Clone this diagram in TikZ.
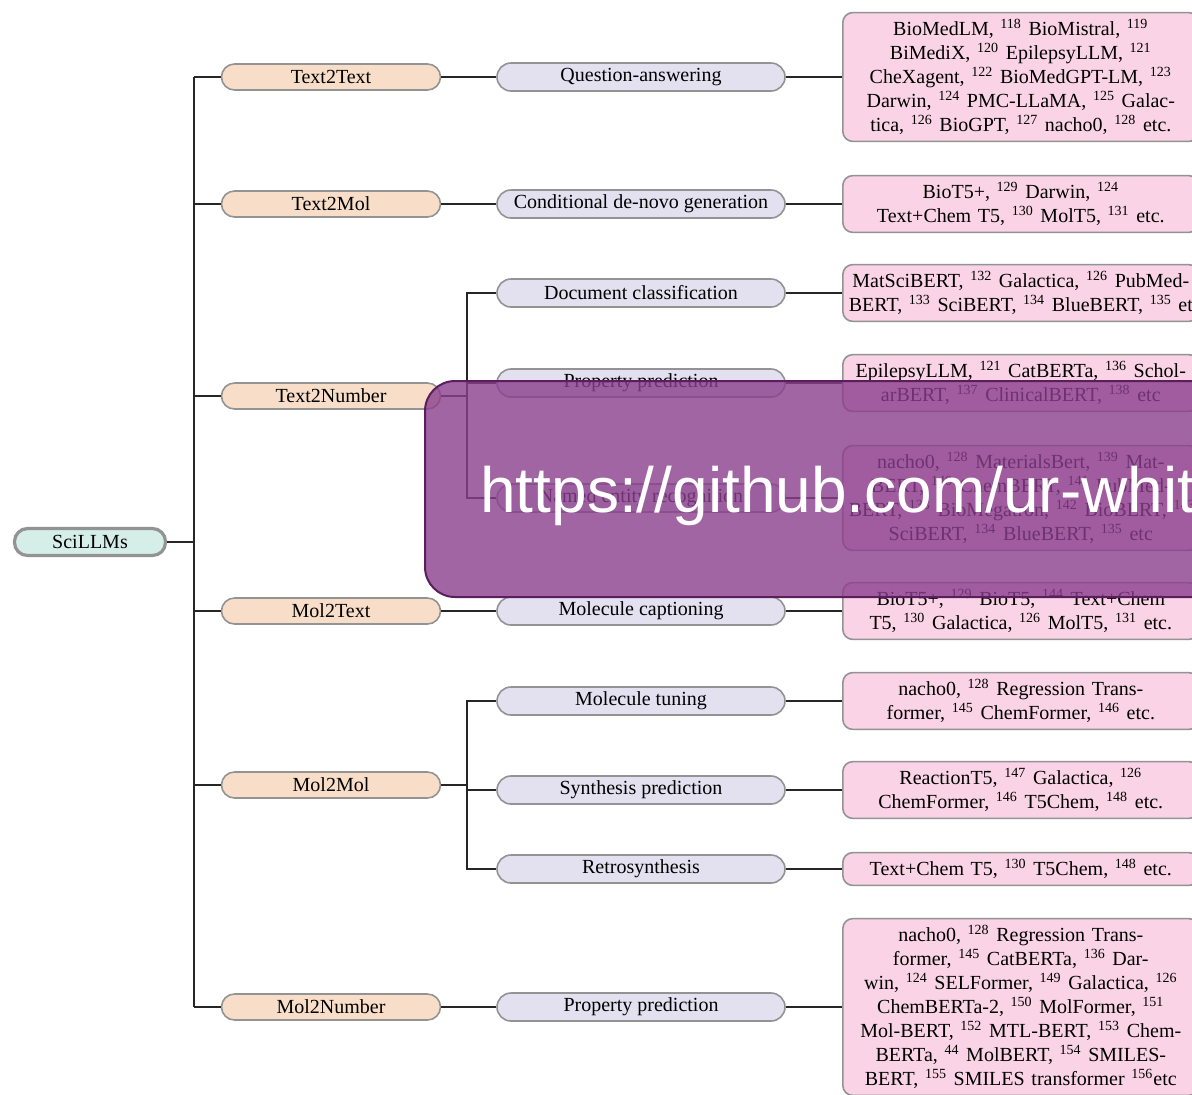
\documentclass[tikz,border=0pt]{standalone}
\usepackage{fontspec}
\setmainfont{Liberation Serif}
\newfontfamily\urlfont{Liberation Sans}
\usetikzlibrary{calc}

\definecolor{rootfill}{HTML}{D6EEE8}
\definecolor{taskfill}{HTML}{F8DEC8}
\definecolor{subfill}{HTML}{E3E1F0}
\definecolor{leaffill}{HTML}{FAD4E6}
\definecolor{wmfill}{HTML}{8A3F8C}
\definecolor{wmborder}{HTML}{5A1E5E}

\newcommand{\cit}[1]{\textsuperscript{#1}}
\newcommand{\wideline}[1]{\makebox[\linewidth][l]{\hspace{-1pt}#1}}

\begin{document}
\begin{tikzpicture}[
x=.5pt, y=-.5pt,
line/.style={line width=1pt, black!85},
base/.style={draw=gray!85, line width=.8pt, inner sep=0pt, rounded corners=6.5pt},
root/.style={base, fill=rootfill, minimum width=75.5pt, minimum height=13.5pt, line width=1.6pt},
task/.style={base, fill=taskfill, minimum width=109.5pt, minimum height=13pt},
sub/.style={base, fill=subfill, minimum width=144pt, minimum height=14pt, rounded corners=7pt},
leaf/.style={base, fill=leaffill, anchor=west, text width=170pt, align=center, inner xsep=4pt, inner ysep=3.3pt, rounded corners=5pt},
]

\useasboundingbox (0,0) rectangle (1192,1094);
\clip (0,0) rectangle (1192,1094);

%%%% ROOT
\node[root] (sci) at (90,542) {SciLLMs};
\draw[line] (sci.east)--++(27,0)coordinate(hub);

%%%% TASKS
\node[task] (t2t) at (331,77) {Text2Text};
\node[task] (t2m) at (331,204) {Text2Mol};
\node[task] (t2n) at (331,396) {Text2Number};
\node[task] (m2t) at (331,611) {Mol2Text};
\node[task] (m2m) at (331,785) {Mol2Mol};
\node[task] (m2n) at (331,1007) {Mol2Number};

\draw[line] (hub|-t2t)--(hub|-m2n);
\foreach \t in {t2t,t2m,t2n,m2t,m2m,m2n}
  \draw[line] (\t.west)--(\t.west-|hub);

%%%% SUBTASKS
\node[sub] (qa) at (641,77) {Question-answering};
\node[sub] (cdg) at (641,204) {Conditional de-novo generation};
\node[sub] (doc) at (641,293) {Document classification};
\node[sub] (prop) at (641,383) {Property prediction};
\node[sub] (ner) at (641,498) {Named entity recognition};
\node[sub] (capt) at (641,611) {Molecule captioning};
\node[sub] (tune) at (641,701) {Molecule tuning};
\node[sub] (synth) at (641,790) {Synthesis prediction};
\node[sub] (retro) at (641,869) {Retrosynthesis};
\node[sub] (mprop) at (641,1007) {Property prediction};

\draw[line] (t2t.east)--(qa.west);
\draw[line] (t2m.east)--(cdg.west);
\draw[line] (m2t.east)--(capt.west);
\draw[line] (m2n.east)--(mprop.west);

%% branch Text2Number
\draw[line] (t2n.east)--++(26,0)coordinate(b1);
\draw[line] (doc.west)-|(b1)|-(ner.west);
\draw[line] (prop.west)--(prop.west-|b1);

%% branch Mol2Mol
\draw[line] (m2m.east)--++(26,0)coordinate(b2);
\draw[line] (tune.west)-|(b2)|-(retro.west);
\draw[line] (synth.west)--(synth.west-|b2);

%%%% MODELS
\node[leaf] (lqa) at (842,77) {BioMedLM, \cit{118} BioMistral, \cit{119}\\
BiMediX, \cit{120} EpilepsyLLM, \cit{121}\\
CheXagent, \cit{122} BioMedGPT-LM, \cit{123}\\
Darwin, \cit{124} PMC-LLaMA, \cit{125} Galac-\\
tica, \cit{126} BioGPT, \cit{127} nacho0, \cit{128} etc.};
\node[leaf] (lcdg) at (842,204) {BioT5+, \cit{129} Darwin, \cit{124}\\
Text+Chem T5, \cit{130} MolT5, \cit{131} etc.};
\node[leaf] (ldoc) at (842,293) {MatSciBERT, \cit{132} Galactica, \cit{126} PubMed-\\
\wideline{BERT, \cit{133} SciBERT, \cit{134} BlueBERT, \cit{135} etc}};
\node[leaf] (lprop) at (842,383) {EpilepsyLLM, \cit{121} CatBERTa, \cit{136} Schol-\\
arBERT, \cit{137} ClinicalBERT, \cit{138} etc};
\node[leaf] (lner) at (842,498) {nacho0, \cit{128} MaterialsBert, \cit{139} Mat-\\
BERT, \cit{140} ChemBERT, \cit{141} PubMed-\\
\wideline{BERT, \cit{133} BioMegatron, \cit{142} BioBERT, \cit{143}}\\
SciBERT, \cit{134} BlueBERT, \cit{135} etc};
\node[leaf] (lcapt) at (842,611) {BioT5+, \cit{129} BioT5, \cit{144} Text+Chem\\
T5, \cit{130} Galactica, \cit{126} MolT5, \cit{131} etc.};
\node[leaf] (ltune) at (842,701) {nacho0, \cit{128} Regression Trans-\\
former, \cit{145} ChemFormer, \cit{146} etc.};
\node[leaf] (lsynth) at (842,790) {ReactionT5, \cit{147} Galactica, \cit{126}\\
ChemFormer, \cit{146} T5Chem, \cit{148} etc.};
\node[leaf] (lretro) at (842,869) {Text+Chem T5, \cit{130} T5Chem, \cit{148} etc.};
\node[leaf] (lmprop) at (842,1007) {nacho0, \cit{128} Regression Trans-\\
former, \cit{145} CatBERTa, \cit{136} Dar-\\
win, \cit{124} SELFormer, \cit{149} Galactica, \cit{126}\\
ChemBERTa-2, \cit{150} MolFormer, \cit{151}\\
Mol-BERT, \cit{152} MTL-BERT, \cit{153} Chem-\\
BERTa, \cit{44} MolBERT, \cit{154} SMILES-\\
BERT, \cit{155} SMILES transformer \cit{156}etc};

\foreach \s/\l in {qa/lqa,cdg/lcdg,doc/ldoc,prop/lprop,ner/lner,capt/lcapt,tune/ltune,synth/lsynth,retro/lretro,mprop/lmprop}
  \draw[line] (\s.east)--(\l.west);

%%%% OVERLAY
\draw[draw=wmborder, line width=1pt, fill=wmfill, fill opacity=.8, rounded corners=15pt] (425,381) rectangle (1240,597);
\node[anchor=base west, text=white, font=\urlfont\fontsize{32}{38}\selectfont, inner sep=0pt] (url) at (480,512) {https://github.com/ur-whit};

\end{tikzpicture}
\end{document}
